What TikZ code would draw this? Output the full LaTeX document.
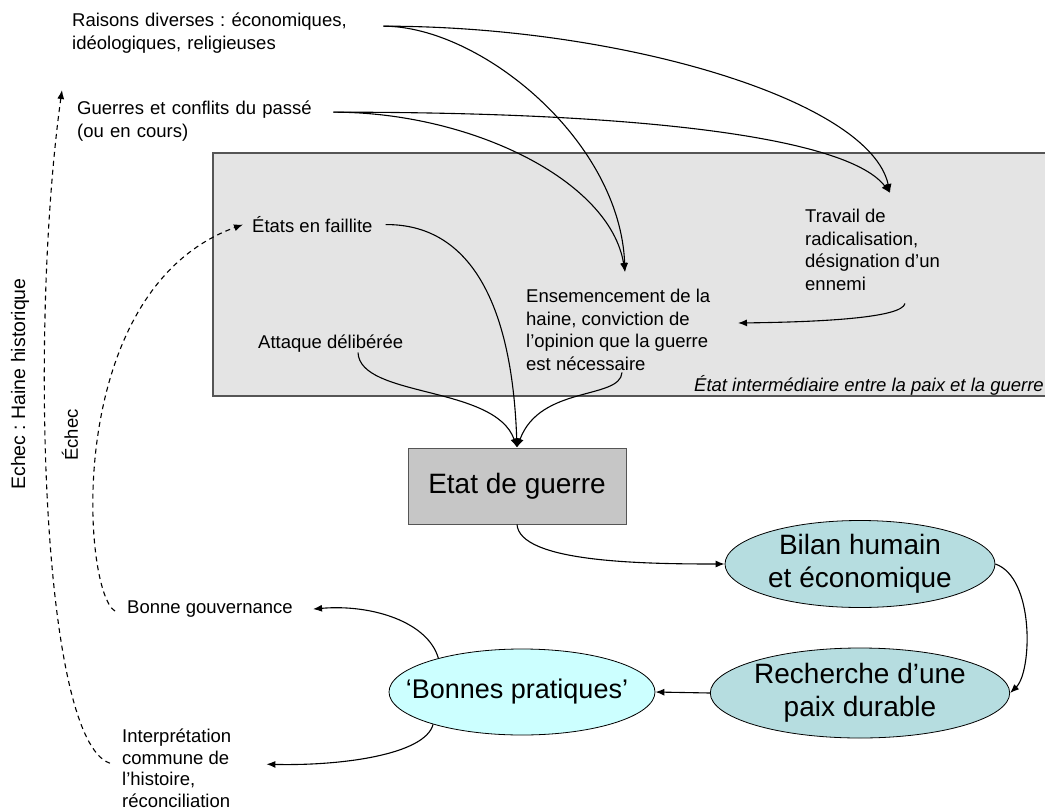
\documentclass[tikz,border=0pt]{standalone}
\usepackage{fontspec}
\setmainfont{Liberation Sans}
\frenchspacing
\usetikzlibrary{shapes.geometric,arrows.meta,calc}
\definecolor{zonefill}{HTML}{E4E4E4}
\definecolor{zoneline}{HTML}{555555}
\definecolor{warfill}{HTML}{C6C6C6}
\definecolor{tealfill}{HTML}{B6DDE0}
\definecolor{cyanfill}{HTML}{CCFFFF}
\begin{document}
\begin{tikzpicture}[x=1pt,y=-1pt,
  lbl/.style={font=\fontsize{18.5}{22.5}\selectfont, align=left, inner sep=0pt},
  big/.style={font=\fontsize{28}{33}\selectfont, align=center, inner sep=0pt},
  conn/.style={line width=1.1pt, -{Latex[length=9pt,width=7pt]}},
  dconn/.style={conn, dash pattern=on 5pt off 4pt},
  ell/.style={big, ellipse, draw=black, line width=0.8pt},
]
\useasboundingbox (0,0) rectangle (1045,809);
\clip (0,0) rectangle (1045,809);

% intermediate zone
\fill[zonefill] (213,153) rectangle (1070,396);
\draw[zoneline, line width=1.4pt] (1070,153) -- (213,153) -- (213,396) -- (1070,396);

% labels
\node[lbl, anchor=north west, text width=311pt] (raisons) at (72,13)
  {Raisons diverses : économiques,\\idéologiques, religieuses};
\node[lbl, anchor=north west, text width=256pt] (guerres) at (77,101)
  {Guerres et conflits du passé\\(ou en cours)};
\node[lbl, anchor=base west] (etats) at (252,232.5) {États en faillite};
\node[lbl, anchor=north west] (travail) at (805,209)
  {Travail de\\radicalisation,\\désignation d’un\\ennemi};
\node[lbl, anchor=north west] (ens) at (526,289)
  {Ensemencement de la\\haine, conviction de\\l'opinion que la guerre\\est nécessaire};
\node[lbl, anchor=base west] (attaque) at (258,348.5) {Attaque délibérée};
\node[lbl, anchor=base west, font=\fontsize{18.5}{22.5}\selectfont\itshape] (zone) at (694,391)
  {État intermédiaire entre la paix et la guerre};
\node[lbl, anchor=base west] (gouv) at (127,613.5) {Bonne gouvernance};
\node[lbl, anchor=north west, font=\fontsize{18.5}{21.4}\selectfont] (interp) at (122,729)
  {Interprétation\\commune de\\l’histoire,\\réconciliation};
\node[lbl, rotate=90, font=\fontsize{19.5}{22}\selectfont] (haine) at (20,384) {Echec : Haine historique};
\node[lbl, rotate=90] (echec) at (70,435) {Échec};

% main nodes
\node[big, draw=zoneline, line width=1pt, fill=warfill, minimum width=218pt, minimum height=76pt] (guerre) at (517,486) {Etat de guerre};
\node[ell, fill=tealfill, minimum width=270pt, minimum height=87pt] (bilan) at (860,564) {Bilan humain\\et économique};
\node[ell, fill=tealfill, minimum width=275pt, minimum height=90pt] (rech) at (860,693) {Recherche d’une\\paix durable};
\node[ell, fill=cyanfill, font=\fontsize{27}{32}\selectfont, minimum width=266pt, minimum height=86pt] (bon) at (522,692)
  {\makebox[150pt]{‘Bonnes pratiques’\hspace{10pt}}};

% connectors from the causes
\draw[conn] ([yshift=7pt]raisons.east) .. controls (480,26) and (620,140) .. ([xshift=99pt,yshift=17pt]ens.north west);
\draw[conn] ([yshift=7pt]raisons.east) .. controls (620,26) and (870,100) .. ([xshift=85pt,yshift=16pt]travail.north west);
\draw[conn] ([yshift=9pt]guerres.east) .. controls (470,112) and (610,180) .. ([xshift=99pt,yshift=17pt]ens.north west);
\draw[conn] ([yshift=9pt]guerres.east) .. controls (660,112) and (850,140) .. ([xshift=85pt,yshift=16pt]travail.north west);
\draw[conn] ([xshift=100pt,yshift=-13pt]travail.south west) .. controls (902,318) and (820,322) .. ([xshift=212pt,yshift=-34pt]ens.north west);

% into the state of war
\draw[conn] ([xshift=13pt]etats.east) .. controls (468,224) and (512,300) .. (guerre.north);
\draw[conn] ([xshift=100pt]attaque.south west) .. controls (360,398) and (495,385) .. (guerre.north);
\draw[conn] ([xshift=96pt,yshift=-2pt]ens.south west) .. controls (620,400) and (540,385) .. (guerre.north);

% consequences
\draw[conn] (guerre.south) .. controls (520,562) and (640,564) .. (bilan.west);
\draw[conn] (bilan.east) .. controls (1035,578) and (1032,672) .. (rech.east);
\draw[conn] (rech.west) -- (bon.east);
\draw[conn] (bon.158) .. controls (428,622) and (372,604) .. ([xshift=20pt]gouv.east);
\draw[conn] (bon.200) .. controls (425,755) and (340,766) .. ([xshift=35pt,yshift=4pt]interp.east);

% failure loops
\draw[dconn] ([xshift=-12pt,yshift=-2pt]gouv.west) .. controls (82,592) and (62,290) .. ([xshift=-9pt]etats.west);
\draw[dconn] ([xshift=-12pt,yshift=5pt]interp.west) .. controls (40,740) and (30,320) .. ([xshift=-15pt,yshift=11pt]guerres.north west);
\end{tikzpicture}
\end{document}
